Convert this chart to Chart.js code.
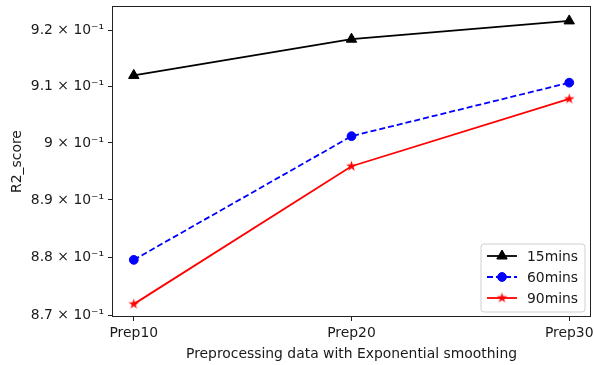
<!DOCTYPE html>
<html>
<head>
<meta charset="utf-8">
<script src="https://cdn.jsdelivr.net/npm/chart.js@4/dist/chart.umd.min.js"></script>
<style>
  html, body { margin: 0; padding: 0; background: #fff; }
  #wrap { width: 594px; height: 365px; }
</style>
</head>
<body>
<div id="wrap"><canvas id="r2Chart" width="594" height="365"></canvas></div>
<script>
// R2 scores per preprocessing setting, one series per horizon
const categories = ['Prep10', 'Prep20', 'Prep30'];
const seriesNames = ['15mins', '60mins', '90mins'];
const r2_15 = [0.9120, 0.9185, 0.9218];
const r2_60 = [0.8796, 0.9012, 0.9107];
const r2_90 = [0.8720, 0.8959, 0.9078];
const yTicks = [0.87, 0.88, 0.89, 0.90, 0.91, 0.92];
const yTickLabels = ['8.7 × 10⁻¹', '8.8 × 10⁻¹', '8.9 × 10⁻¹', '9 × 10⁻¹', '9.1 × 10⁻¹', '9.2 × 10⁻¹'];

const FONT = 'DejaVu Sans';
const TXT = '#1a1a1a';

// filled five point star for the 90mins markers
function makeStar(color, outer) {
    const size = Math.ceil(outer * 2 + 2);
    const c = document.createElement('canvas');
    c.width = size; c.height = size;
    const g = c.getContext('2d');
    const inner = outer * 0.382;
    g.beginPath();
    for (let i = 0; i < 10; i++) {
        const r = i % 2 === 0 ? outer : inner;
        const a = -Math.PI / 2 + i * Math.PI / 5;
        const px = size / 2 + r * Math.cos(a);
        const py = size / 2 + r * Math.sin(a);
        if (i === 0) g.moveTo(px, py); else g.lineTo(px, py);
    }
    g.closePath();
    g.fillStyle = color;
    g.fill();
    return c;
}
const redStar = makeStar('#ff0000', 5.5);

const toPoints = arr => arr.map((v, i) => ({ x: i, y: v }));

// no extra room for overhanging tick labels
function noScalePadding(s) {
    s.paddingLeft = 0; s.paddingRight = 0; s.paddingTop = 0; s.paddingBottom = 0;
}

// frame around the plot area and the legend box in the lower right
const framePlugin = {
    id: 'frameAndLegend',
    afterDraw(chart) {
        const { ctx, chartArea: a } = chart;
        ctx.save();
        ctx.strokeStyle = '#222';
        ctx.lineWidth = 1;
        ctx.strokeRect(a.left + 0.5, a.top + 0.5, a.right - a.left - 1, a.bottom - a.top - 1);

        const bx = 481, by = 244, bw = 104, bh = 68, rr = 3;
        ctx.beginPath();
        ctx.moveTo(bx + rr, by);
        ctx.arcTo(bx + bw, by, bx + bw, by + bh, rr);
        ctx.arcTo(bx + bw, by + bh, bx, by + bh, rr);
        ctx.arcTo(bx, by + bh, bx, by, rr);
        ctx.arcTo(bx, by, bx + bw, by, rr);
        ctx.closePath();
        ctx.fillStyle = 'rgba(255,255,255,0.8)';
        ctx.fill();
        ctx.strokeStyle = '#d0d0d0';
        ctx.stroke();

        ctx.font = '13.9px "' + FONT + '"';
        ctx.textBaseline = 'middle';
        ctx.textAlign = 'left';
        chart.data.datasets.forEach((ds, i) => {
            const y = 256 + i * 21;
            ctx.beginPath();
            ctx.strokeStyle = ds.borderColor;
            ctx.lineWidth = ds.borderWidth;
            ctx.setLineDash(ds.borderDash || []);
            ctx.moveTo(487, y);
            ctx.lineTo(517, y);
            ctx.stroke();
            ctx.setLineDash([]);
            ctx.fillStyle = ds.backgroundColor;
            ctx.lineWidth = 1;
            Chart.helpers.drawPoint(ctx, {
                pointStyle: ds.pointStyle,
                radius: ds.pointRadius,
                borderWidth: 1,
                rotation: 0
            }, 502, y);
            ctx.fillStyle = TXT;
            ctx.fillText(seriesNames[i], 527, y + 1);
        });
        ctx.restore();
    }
};

const datasets = [
    { label: seriesNames[0], data: toPoints(r2_15), borderColor: '#000000', backgroundColor: '#000000',
      borderWidth: 1.8, pointStyle: 'triangle', pointRadius: 6 },
    { label: seriesNames[1], data: toPoints(r2_60), borderColor: '#0000ff', backgroundColor: '#0000ff',
      borderWidth: 1.8, borderDash: [6, 3], pointStyle: 'circle', pointRadius: 4.4 },
    { label: seriesNames[2], data: toPoints(r2_90), borderColor: '#ff0000', backgroundColor: '#ff0000',
      borderWidth: 1.8, pointStyle: redStar, pointRadius: 5.5 }
];
datasets.forEach(ds => {
    ds.pointBackgroundColor = ds.backgroundColor;
    ds.pointBorderColor = ds.borderColor;
    ds.pointBorderWidth = 1;
    ds.tension = 0;
    ds.fill = false;
});

new Chart(document.getElementById('r2Chart'), {
    type: 'line',
    data: { datasets },
    options: {
        responsive: false,
        animation: false,
        layout: { autoPadding: false, padding: { top: 6, right: 3, left: 0, bottom: 0 } },
        plugins: { legend: { display: false }, tooltip: { enabled: false } },
        scales: {
            x: {
                type: 'linear',
                min: -0.1,
                max: 2.1,
                bounds: 'data',
                afterBuildTicks: s => { s.ticks = categories.map((c, i) => ({ value: i })); },
                afterFit: s => { s.height = 48; noScalePadding(s); },
                ticks: {
                    callback: v => categories[v],
                    maxRotation: 0,
                    autoSkip: false,
                    padding: 4,
                    color: TXT,
                    font: { family: FONT, size: 13.9 }
                },
                grid: { drawOnChartArea: false, drawTicks: true, tickLength: 4, tickColor: '#222', tickWidth: 1 },
                border: { display: false },
                title: {
                    display: true,
                    text: 'Preprocessing data with Exponential smoothing',
                    color: TXT,
                    font: { family: FONT, size: 13.9 },
                    padding: { top: 0, bottom: 2 }
                }
            },
            y: {
                type: 'logarithmic',
                min: 0.8698,
                max: 0.9245,
                bounds: 'data',
                afterBuildTicks: s => { s.ticks = yTicks.map(v => ({ value: v })); },
                afterFit: s => { s.width = 112; noScalePadding(s); },
                ticks: {
                    callback: v => yTickLabels[yTicks.findIndex(t => Math.abs(t - v) < 1e-6)],
                    padding: 4,
                    color: TXT,
                    font: { family: FONT, size: 13.9 }
                },
                grid: { drawOnChartArea: false, drawTicks: true, tickLength: 4, tickColor: '#222', tickWidth: 1 },
                border: { display: false },
                title: {
                    display: true,
                    text: 'R2_score',
                    color: TXT,
                    font: { family: FONT, size: 13.9 },
                    padding: { top: 9, bottom: 0 }
                }
            }
        }
    },
    plugins: [framePlugin]
});
</script>
</body>
</html>
